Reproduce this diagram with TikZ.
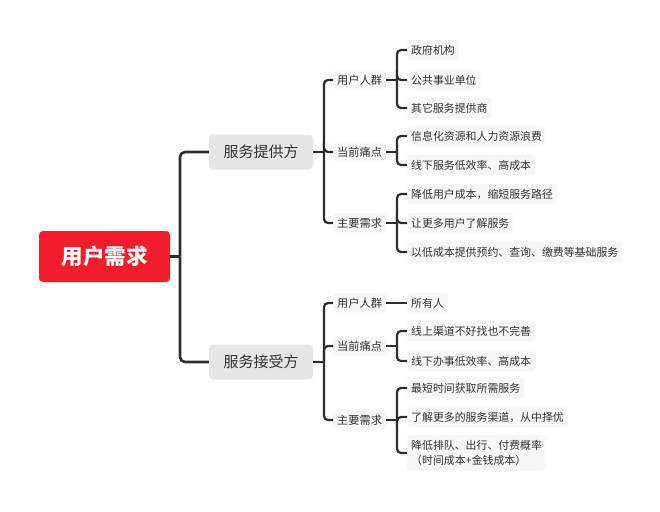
\documentclass[tikz,border=0pt]{standalone}
\usepackage{fontspec}
\setmainfont{Noto Sans CJK SC}
\definecolor{rootred}{RGB}{240,30,42}
\definecolor{txt}{RGB}{51,51,51}
\definecolor{lone}{RGB}{230,230,230}
\definecolor{lthree}{RGB}{247,247,247}
\definecolor{linec}{RGB}{45,45,45}
\begin{document}
\begin{tikzpicture}[x=1pt,y=1pt,
  rootbox/.style={fill=rootred,rounded corners=4pt,minimum width=131pt,minimum height=51pt,text=white,font=\fontsize{21.5}{24}\selectfont\bfseries,inner sep=0pt},
  onebox/.style={fill=lone,rounded corners=4pt,minimum width=104pt,minimum height=35pt,text=txt,font=\fontsize{15}{18}\selectfont,inner sep=0pt},
  twobox/.style={fill=lthree,rounded corners=3pt,anchor=west,text=txt,font=\fontsize{11.2}{14}\selectfont,inner xsep=4pt,inner ysep=4.5pt},
  threebox/.style={fill=lthree,rounded corners=3pt,anchor=west,text=txt,font=\fontsize{10.9}{15}\selectfont,inner xsep=4pt,inner ysep=5pt,align=left},
  trunk/.style={draw=linec,line width=2.6pt,rounded corners=5pt},
  branch/.style={draw=linec,line width=2.2pt,rounded corners=4pt}
]
\useasboundingbox (0,0) rectangle (660,-511);
\fill[white] (0,0) rectangle (660,-511);

\node[rootbox] (root) at (104.5,-256.5) {用户需求};
\node[onebox] (p) at (261,-152) {服务提供方};
\node[onebox] (r) at (261,-362) {服务接受方};

% level 2
\node[twobox] (p1) at (333,-80) {用户人群};
\node[twobox] (p2) at (333,-152) {当前痛点};
\node[twobox] (p3) at (333,-223) {主要需求};
\node[twobox] (r1) at (333,-303) {用户人群};
\node[twobox] (r2) at (333,-346) {当前痛点};
\node[twobox] (r3) at (333,-420) {主要需求};

% level 3
\node[threebox] (p11) at (407,-50) {政府机构};
\node[threebox] (p12) at (407,-80) {公共事业单位};
\node[threebox] (p13) at (407,-108) {其它服务提供商};
\node[threebox] (p21) at (407,-136) {信息化资源和人力资源浪费};
\node[threebox] (p22) at (407,-165) {线下服务低效率、高成本};
\node[threebox] (p31) at (407,-194) {降低用户成本，缩短服务路径};
\node[threebox] (p32) at (407,-223) {让更多用户了解服务};
\node[threebox] (p33) at (407,-252) {以低成本提供预约、查询、缴费等基础服务};
\node[threebox] (r11) at (407,-303) {所有人};
\node[threebox] (r21) at (407,-331) {线上渠道不好找也不完善};
\node[threebox] (r22) at (407,-361) {线下办事低效率、高成本};
\node[threebox] (r31) at (407,-388) {最短时间获取所需服务};
\node[threebox] (r32) at (407,-417) {了解更多的服务渠道，从中择优};
\node[threebox] (r33) at (407,-453) {降低排队、出行、付费概率\\（时间成本+金钱成本）};

% connectors root
\coordinate (j0) at (180,-256.5);
\draw[trunk] (root.east) -- (j0);
\draw[trunk] (j0) |- (p.west);
\draw[trunk] (j0) |- (r.west);

% provider / receiver
\coordinate (jp) at (324,-152);
\draw[branch] (p.east) -- (jp);
\foreach \c in {p1,p2,p3} \draw[branch] (jp) |- (\c.west);
\coordinate (jr) at (324,-362);
\draw[branch] (r.east) -- (jr);
\foreach \c in {r1,r2,r3} \draw[branch] (jr) |- (\c.west);

% level 2 -> 3
\coordinate (jp1) at (397,-80);
\draw[branch] (p1.east) -- (jp1);
\foreach \c in {p11,p12,p13} \draw[branch] (jp1) |- (\c.west);
\coordinate (jp2) at (397,-152);
\draw[branch] (p2.east) -- (jp2);
\foreach \c in {p21,p22} \draw[branch] (jp2) |- (\c.west);
\coordinate (jp3) at (397,-223);
\draw[branch] (p3.east) -- (jp3);
\foreach \c in {p31,p32,p33} \draw[branch] (jp3) |- (\c.west);

\draw[branch] (r1.east) -- (r11.west);
\coordinate (jr2) at (397,-346);
\draw[branch] (r2.east) -- (jr2);
\foreach \c in {r21,r22} \draw[branch] (jr2) |- (\c.west);
\coordinate (jr3) at (397,-420);
\draw[branch] (r3.east) -- (jr3);
\foreach \c in {r31,r32,r33} \draw[branch] (jr3) |- (\c.west);
\end{tikzpicture}
\end{document}
